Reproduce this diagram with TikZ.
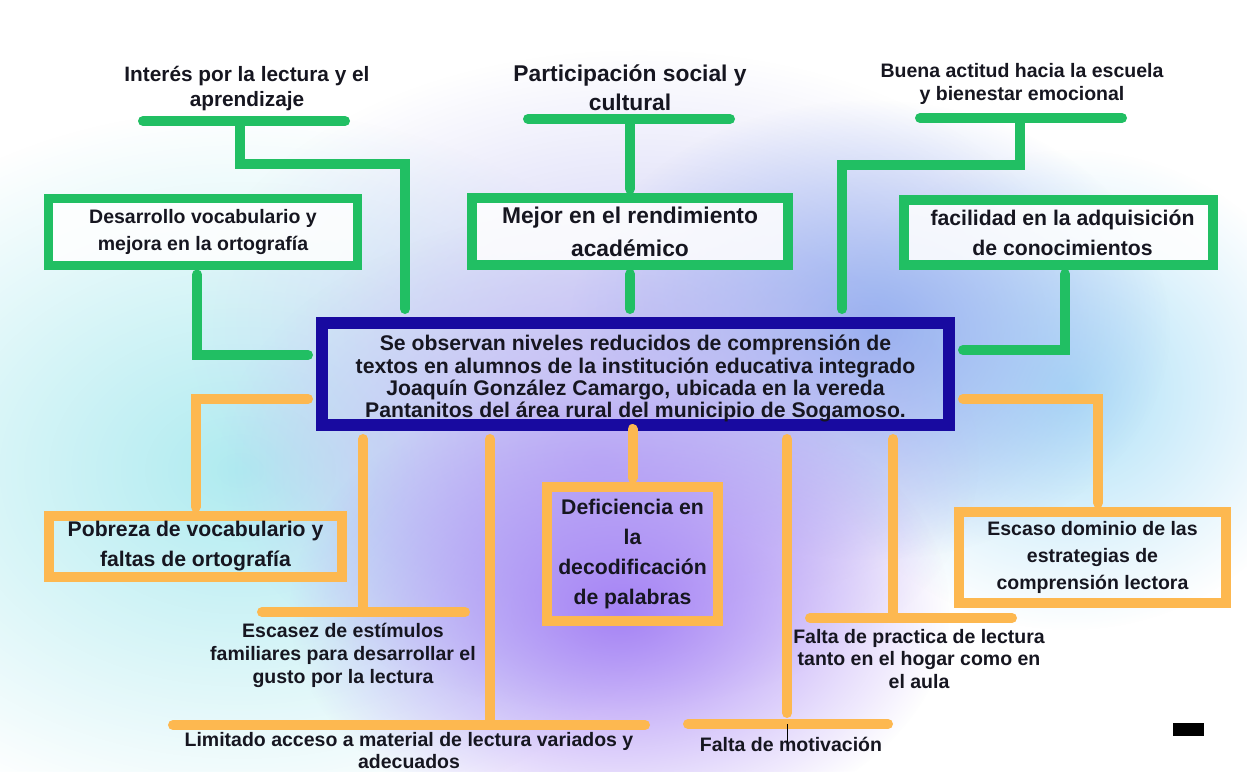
\documentclass[tikz,border=0pt]{standalone}
\usepackage{fontspec}
\setmainfont{Liberation Sans}
\usetikzlibrary{backgrounds,fadings}

\definecolor{verdeclaro}{RGB}{33,191,99}
\definecolor{naranja}{RGB}{253,184,80}
\definecolor{marino}{RGB}{24,10,160}
\definecolor{tinta}{RGB}{22,22,32}
\tikzfading[name=halo, inner color=transparent!0, outer color=transparent!100]

\begin{document}
\begin{tikzpicture}[x=1pt,y=-1pt,
every node/.style={align=center, text=tinta},
efecto/.style={draw=verdeclaro, line width=9.5pt, fill=white, fill opacity=0.85, text opacity=1, inner sep=0pt, outer sep=9pt},
causa/.style={draw=naranja, line width=10pt, inner sep=0pt, outer sep=9pt},
rotulo/.style={inner sep=0pt},
lineaverde/.style={draw=verdeclaro, line width=10pt, line cap=round},
lineanaranja/.style={draw=naranja, line width=10pt, line cap=round},
chica/.style={font=\bfseries\fontsize{19.5}{27}\selectfont},
media/.style={font=\bfseries\fontsize{21.2}{30}\selectfont},
grande/.style={font=\bfseries\fontsize{22.8}{33}\selectfont}]
\useasboundingbox (0,0) rectangle (1247,771);

% problema central y efectos
\node[draw=marino, line width=12.5pt, inner sep=0pt, outer sep=14pt, minimum width=627, minimum height=102,
  font=\bfseries\fontsize{21.2}{22.2}\selectfont] (problema) at (635.5,374)
  {\rule{0pt}{25pt}Se observan niveles reducidos de comprensión de\\textos en alumnos de la institución educativa integrado\\Joaquín González Camargo, ubicada en la vereda\\Pantanitos del área rural del municipio de Sogamoso.};
\node[efecto, chica, minimum width=309, minimum height=67] (vocab) at (203,232) {Desarrollo vocabulario y\\mejora en la ortografía};
\node[efecto, grande, minimum width=316, minimum height=67] (rendimiento) at (630,231.5) {Mejor en el rendimiento\\académico};
\node[efecto, media, minimum width=309, minimum height=65] (facilidad) at (1058.5,232.5) {\hspace*{8pt}facilidad en la adquisición\\\hspace*{8pt}de conocimientos};
\node[rotulo, font=\bfseries\fontsize{20.8}{25}\selectfont] (interes) at (247,89) {Interés por la lectura y el\\aprendizaje};
\node[rotulo, font=\bfseries\fontsize{22.8}{29}\selectfont] (participacion) at (630,88) {Participación social y\\cultural};
\node[rotulo, font=\bfseries\fontsize{19.5}{23}\selectfont] (actitud) at (1022,84) {Buena actitud hacia la escuela\\y bienestar emocional};

% causas
\node[causa, media, minimum width=293, minimum height=61] (pobreza) at (195.5,546.5) {Pobreza de vocabulario y\\faltas de ortografía};
\node[causa, media, minimum width=171, minimum height=134] (deficiencia) at (632.5,554) {Deficiencia en\\la\\decodificación\\de palabras};
\node[causa, chica, minimum width=267, minimum height=91] (escaso) at (1092.5,557.5) {Escaso dominio de las\\estrategias de\\comprensión lectora};
\node[rotulo, font=\bfseries\fontsize{19.5}{23}\selectfont] (escasez) at (343,655) {Escasez de estímulos\\familiares para desarrollar el\\gusto por la lectura};
\node[rotulo, font=\bfseries\fontsize{19.5}{22}\selectfont] (limitado) at (409,751) {Limitado acceso a material de lectura variados y\\adecuados};
\node[rotulo, font=\bfseries\fontsize{19.5}{22}\selectfont] (motivacion) at (791,744) {Falta de motivación};
\node[rotulo, font=\bfseries\fontsize{19.5}{22.5}\selectfont] (practica) at (919,659) {Falta de practica de lectura\\tanto en el hogar como en\\el aula};

% uniones de las barras
\coordinate (bi) at (240,121);
\coordinate (bp) at (630,119);
\coordinate (ba) at (1020,118);
\coordinate (be) at (363,612);
\coordinate (bl) at (490,725);
\coordinate (bm) at (787,724);
\coordinate (bpr) at (893,618);

% ramas verdes
\draw[lineaverde] ([xshift=-97]bi) -- ([xshift=105]bi);
\draw[lineaverde] ([xshift=-102]bp) -- ([xshift=100]bp);
\draw[lineaverde] ([xshift=-100]ba) -- ([xshift=102]ba);
\draw[lineaverde] (bi) -- ++(0,43) -| ([xshift=-230.5]problema.north);
\draw[lineaverde] (bp) -- (rendimiento.north);
\draw[lineaverde] (rendimiento.south) -- (rendimiento.south |- problema.north);
\draw[lineaverde] (ba) -- ++(0,47) -| ([xshift=206.5]problema.north);
\draw[lineaverde] ([xshift=-6]vocab.south) |- ([yshift=19]problema.west);
\draw[lineaverde] ([xshift=6.5]facilidad.south) |- ([yshift=24]problema.east);

% ramas naranjas
\draw[lineanaranja] ([xshift=-101]be) -- ([xshift=102]be);
\draw[lineanaranja] ([xshift=-317]bl) -- ([xshift=155]bl);
\draw[lineanaranja] ([xshift=-99]bm) -- ([xshift=101]bm);
\draw[lineanaranja] ([xshift=-83]bpr) -- ([xshift=119]bpr);
\draw[lineanaranja] ([yshift=-25]problema.west) -| (pobreza.north);
\draw[lineanaranja] (problema.south -| be) -- (be);
\draw[lineanaranja] (problema.south -| bl) -- (bl);
\draw[lineanaranja] ([yshift=10]problema.south -| deficiencia.north) -- (deficiencia.north);
\draw[lineanaranja] (problema.south -| bm) -- ([yshift=11]bm);
\draw[lineanaranja] (problema.south -| bpr) -- (bpr);
\draw[lineanaranja] ([yshift=-25]problema.east) -| ([xshift=5.5]escaso.north);
\draw[black, line width=0.6pt] (bm) -- ++(0,18);
\fill[black] (1173,723) rectangle (1204,736);

% fondo difuminado
\begin{pgfonlayer}{background}
\fill[white] (0,0) rectangle (1247,771);
\fill[color={rgb,255:red,175;green,235;blue,240}, path fading=halo] (240,470) ellipse (480 and 360);
\fill[color={rgb,255:red,205;green,205;blue,245}, path fading=halo] (640,330) ellipse (450 and 280);
\fill[color={rgb,255:red,175;green,225;blue,248}, path fading=halo] (1070,390) ellipse (260 and 240);
\fill[color={rgb,255:red,150;green,175;blue,240}, path fading=halo] (870,330) ellipse (300 and 230);
\fill[color={rgb,255:red,195;green,185;blue,245}, path fading=halo] (600,460) ellipse (380 and 250);
\fill[color={rgb,255:red,165;green,130;blue,245}, path fading=halo] (620,610) ellipse (330 and 230);
\end{pgfonlayer}
\end{tikzpicture}
\end{document}
